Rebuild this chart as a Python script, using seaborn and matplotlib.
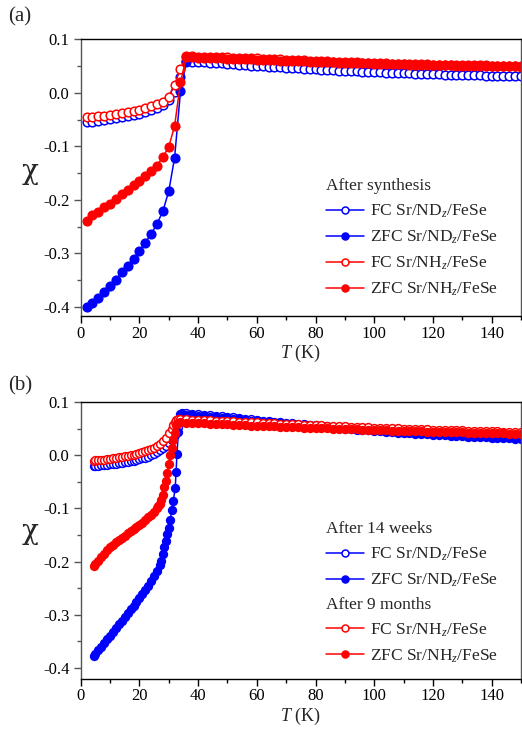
import numpy as np
import matplotlib
matplotlib.use("Agg")
import matplotlib.pyplot as plt
from matplotlib.lines import Line2D
from matplotlib.ticker import MultipleLocator, FormatStrFormatter
import seaborn as sns

# ---------------- data : panel (a) ----------------
T_A_LO = [2, 4, 6, 8, 10, 12, 14, 16, 18, 20, 22, 24, 26, 28, 30, 32, 34, 36]
T_A_HI = [38, 40, 42, 44, 46, 48, 50, 52, 54, 56, 58, 60, 62, 64, 66, 68, 70, 72, 74, 76,
          78, 80, 82, 84, 86, 88, 90, 92, 94, 96, 98, 100, 102, 104, 106, 108, 110, 112,
          114, 116, 118, 120, 122, 124, 126, 128, 130, 132, 134, 136, 138, 140, 142, 144,
          146, 148, 150]

FC_ND_A_LO = [-.0550, -.0537, -.0523, -.0508, -.0492, -.0475, -.0457, -.0437, -.0414, -.0388,
              -.0358, -.0324, -.0284, -.0232, -.0140, .0020, .0300, .0590]
FC_ND_A_HI = [.0580, .0575, .0569, .0563, .0557, .0551, .0545, .0536, .0527, .0518, .0509, .0500,
              .0494, .0488, .0482, .0476, .0470, .0463, .0456, .0449, .0442, .0435,
              .0430, .0425, .0420, .0415, .0410, .0405, .0400, .0395, .0390, .0385,
              .0381, .0377, .0373, .0369, .0365, .0361, .0357, .0353, .0349, .0345,
              .0342, .0339, .0336, .0333, .0330, .0328, .0326, .0324, .0322, .0320,
              .0318, .0316, .0314, .0312, .0310]
ZFC_ND_A = [-.401, -.393, -.383, -.372, -.361, -.349, -.335, -.323, -.310, -.296, -.280, -.264,
            -.245, -.221, -.184, -.121, .003, .058]
FC_NH_A_LO = [-.0460, -.0450, -.0438, -.0425, -.0410, -.0394, -.0377, -.0358, -.0337, -.0313,
              -.0286, -.0255, -.0218, -.0165, -.0070, .0150, .0450, .0680]
FC_NH_A_HI = [.0680, .0677, .0673, .0670, .0666, .0663, .0659, .0656, .0652, .0648, .0644, .0640,
              .0635, .0631, .0626, .0622, .0617, .0613, .0608, .0604, .0599, .0595,
              .0591, .0587, .0583, .0579, .0575, .0571, .0567, .0563, .0559, .0555,
              .0552, .0549, .0546, .0543, .0540, .0537, .0534, .0531, .0528, .0525,
              .0523, .0521, .0519, .0518, .0516, .0514, .0513, .0511, .0510, .0508,
              .0507, .0505, .0504, .0502, .0500]
ZFC_NH_A_LO = [-.239, -.229, -.222, -.214, -.207, -.199, -.190, -.182, -.173, -.165, -.156, -.146,
               -.136, -.120, -.101, -.062, .020, .066]
ZFC_NH_A_HI = [.0662, .0658, .0654, .0650, .0646, .0642, .0638, .0634, .0630, .0626, .0622, .0618,
               .0614, .0610, .0606, .0602, .0598, .0594, .0590, .0586, .0582, .0578,
               .0574, .0571, .0567, .0564, .0560, .0557, .0553, .0550, .0547, .0544,
               .0541, .0538, .0535, .0532, .0529, .0527, .0524, .0522, .0519, .0517,
               .0515, .0513, .0511, .0509, .0507, .0505, .0503, .0501, .0500, .0498,
               .0496, .0495, .0493, .0492, .0490]

# ---------------- data : panel (b) ----------------
T_B_HI = [36] + T_A_HI

T_FC_ND_B_LO = [4.5, 5, 6, 7, 8, 9, 10, 11, 12, 13, 14, 15, 16, 17, 18, 19, 20, 21, 22, 23, 24,
                25, 26, 27, 28, 29, 30, 31, 32, 32.5, 33, 33.5, 34, 34.5]
FC_ND_B_LO = [-.0203, -.0200, -.0195, -.0190, -.0184, -.0178, -.0172, -.0165, -.0158, -.0150,
              -.0142, -.0133, -.0124, -.0114, -.0103, -.0091, -.0078, -.0062, -.0045, -.0026,
              -.0005, .0020, .0052, .0090, .0130, .0180, .0230, .0290, .0370, .0430, .0520,
              .0660, .0780, .0800]
FC_ND_B_HI = [.0790, .0782, .0772, .0761, .0750, .0740, .0730, .0720, .0708, .0696, .0684, .0672,
              .0660, .0650, .0640, .0630, .0620, .0610, .0600, .0590, .0580, .0570, .0560,
              .0552, .0544, .0536, .0528, .0520, .0512, .0504, .0496, .0488, .0480,
              .0472, .0464, .0456, .0448, .0440, .0433, .0426, .0419, .0412, .0405,
              .0399, .0393, .0387, .0381, .0375, .0370, .0365, .0360, .0355, .0350,
              .0347, .0344, .0341, .0338, .0335]

T_ZFC_ND_B_LO = [4.5, 5, 6, 7, 8, 9, 10, 11, 12, 13, 14, 15, 16, 17, 18, 19, 20, 21, 22, 23, 24,
                 25, 26, 27, 27.5, 28, 28.5, 29, 29.5, 30, 30.5, 31, 31.5, 32.2, 32.5, 32.8,
                 33.3, 33.8, 34.3]
ZFC_ND_B_LO = [-.377, -.374, -.367, -.360, -.353, -.346, -.339, -.332, -.325, -.318, -.311, -.304,
               -.297, -.290, -.283, -.276, -.269, -.261, -.253, -.245, -.237, -.228, -.218,
               -.207, -.199, -.186, -.173, -.161, -.149, -.136, -.121, -.104, -.087, -.062,
               -.031, .003, .044, .070, .077]
ZFC_ND_B_HI = [.0760, .0752, .0742, .0732, .0722, .0712, .0702, .0692, .0681, .0670, .0659, .0648,
               .0637, .0627, .0617, .0607, .0597, .0587, .0577, .0567, .0557, .0547, .0537,
               .0529, .0521, .0513, .0505, .0497, .0489, .0481, .0473, .0465, .0457,
               .0449, .0441, .0433, .0425, .0417, .0410, .0403, .0396, .0389, .0382,
               .0376, .0370, .0364, .0358, .0352, .0347, .0342, .0337, .0332, .0327,
               .0323, .0319, .0315, .0311, .0307]

T_FC_NH_B_LO = [4.5, 5, 6, 7, 8, 9, 10, 11, 12, 13, 14, 15, 16, 17, 18, 19, 20, 21, 22, 23, 24,
                25, 26, 27, 28, 29, 30, 31, 31.5, 32, 32.5, 33, 34]
FC_NH_B_LO = [-.0103, -.0100, -.0095, -.0089, -.0083, -.0076, -.0069, -.0061, -.0053, -.0044,
              -.0035, -.0025, -.0014, -.0002, .0011, .0025, .0040, .0056, .0074, .0094, .0117,
              .0143, .0175, .0215, .0265, .0330, .0410, .0500, .0560, .0620, .0660, .0675,
              .0673]
FC_NH_B_HI = [.0672, .0668, .0664, .0659, .0654, .0649, .0644, .0639, .0634, .0629, .0624, .0619,
              .0614, .0609, .0604, .0599, .0594, .0589, .0584, .0579, .0574, .0569, .0564,
              .0559, .0554, .0550, .0545, .0541, .0536, .0532, .0527, .0523, .0519,
              .0515, .0511, .0507, .0503, .0499, .0495, .0491, .0488, .0484, .0481,
              .0477, .0474, .0470, .0467, .0464, .0461, .0458, .0455, .0452, .0449,
              .0446, .0443, .0441, .0438, .0436]

T_ZFC_NH_B_LO = [4.5, 5, 6, 7, 8, 9, 10, 11, 12, 13, 14, 15, 16, 17, 18, 19, 20, 21, 22, 23, 24,
                 25, 26, 26.5, 27, 27.5, 28, 28.5, 29, 29.5, 30, 30.5, 31, 31.5, 32, 32.5, 33, 34]
ZFC_NH_B_LO = [-.209, -.205, -.198, -.191, -.185, -.179, -.173, -.168, -.163, -.159, -.155, -.151,
               -.147, -.143, -.139, -.135, -.131, -.127, -.122, -.117, -.112, -.106, -.099,
               -.095, -.091, -.085, -.075, -.060, -.048, -.034, -.016, .000, .013, .028, .042,
               .056, .061, .0615]
ZFC_NH_B_HI = [.0610, .0606, .0602, .0597, .0592, .0587, .0582, .0577, .0572, .0567, .0562, .0557,
               .0552, .0548, .0543, .0539, .0534, .0530, .0525, .0521, .0517, .0513, .0509,
               .0505, .0501, .0497, .0493, .0489, .0485, .0482, .0478, .0475, .0471,
               .0468, .0464, .0461, .0458, .0455, .0452, .0449, .0446, .0443, .0440,
               .0437, .0434, .0431, .0428, .0426, .0423, .0421, .0418, .0416, .0413,
               .0411, .0409, .0406, .0404, .0402]

LABELS = [r"FC Sr/ND$_{\mathit{z}}$/FeSe", r"ZFC Sr/ND$_{\mathit{z}}$/FeSe",
          r"FC Sr/NH$_{\mathit{z}}$/FeSe", r"ZFC Sr/NH$_{\mathit{z}}$/FeSe"]
X_TICKS = [0, 20, 40, 60, 80, 100, 120, 140]
Y_TICKS = [-0.4, -0.3, -0.2, -0.1, 0.0, 0.1]

BLUE = "#0000FF"
RED = "#FF0000"

# ---------------- style ----------------
sns.set_theme(style="ticks")
plt.rcParams["font.family"] = ["Liberation Serif", "DejaVu Serif"]
plt.rcParams["mathtext.fontset"] = "custom"
plt.rcParams["mathtext.rm"] = "Liberation Serif"
plt.rcParams["mathtext.it"] = "Liberation Serif:italic"
plt.rcParams["axes.unicode_minus"] = False

fig = plt.figure(figsize=(5.22, 7.36), dpi=100)
ax_a = fig.add_axes([0.1546, 0.5707, 0.8434, 0.3760])
ax_b = fig.add_axes([0.1546, 0.0779, 0.8434, 0.3760])


def draw(ax, T, y, color, filled, ms, label):
    sns.lineplot(x=T, y=y, ax=ax, color=color, linewidth=1.1, marker="o",
                 markersize=ms, markeredgewidth=1.1, markeredgecolor=color,
                 markerfacecolor=color if filled else "white", sort=False,
                 estimator=None, label=label, legend=False)


# panel (a)
draw(ax_a, T_A_LO + T_A_HI, FC_ND_A_LO + FC_ND_A_HI, BLUE, False, 6.2, LABELS[0])
draw(ax_a, T_A_LO, ZFC_ND_A, BLUE, True, 6.2, LABELS[1])
draw(ax_a, T_A_LO + T_A_HI, FC_NH_A_LO + FC_NH_A_HI, RED, False, 6.2, LABELS[2])
draw(ax_a, T_A_LO + T_A_HI, ZFC_NH_A_LO + ZFC_NH_A_HI, RED, True, 6.2, LABELS[3])

# panel (b)
draw(ax_b, T_FC_ND_B_LO + T_B_HI, FC_ND_B_LO + FC_ND_B_HI, BLUE, False, 5.6, LABELS[0])
draw(ax_b, T_ZFC_ND_B_LO + T_B_HI, ZFC_ND_B_LO + ZFC_ND_B_HI, BLUE, True, 5.6, LABELS[1])
draw(ax_b, T_FC_NH_B_LO + T_B_HI, FC_NH_B_LO + FC_NH_B_HI, RED, False, 5.6, LABELS[2])
draw(ax_b, T_ZFC_NH_B_LO + T_B_HI, ZFC_NH_B_LO + ZFC_NH_B_HI, RED, True, 5.6, LABELS[3])

for ax, ylo, ly in [(ax_a, -0.417, 0.473), (ax_b, -0.42, 0.483)]:
    ax.set_xlim(0, 150)
    ax.set_ylim(ylo, 0.1)
    ax.set_xticks(X_TICKS)
    ax.set_yticks(Y_TICKS)
    ax.xaxis.set_minor_locator(MultipleLocator(10))
    ax.yaxis.set_minor_locator(MultipleLocator(0.05))
    ax.yaxis.set_major_formatter(FormatStrFormatter("%.1f"))
    ax.tick_params(which="both", direction="out", top=False, right=False,
                   labelsize=12, pad=3, width=1.0, colors="black")
    ax.tick_params(axis="x", which="both", pad=2)
    ax.tick_params(which="major", length=5)
    ax.tick_params(which="minor", length=3)
    ax.tick_params(axis="y", which="both", color="#555555")
    for s in ["top", "bottom"]:
        ax.spines[s].set_color("black")
        ax.spines[s].set_linewidth(1.0)
    for s in ["left", "right"]:
        ax.spines[s].set_color("#555555")
        ax.spines[s].set_linewidth(1.0)
    ax.set_xlabel(r"$T$ (K)", fontsize=13, labelpad=1)
    ax.set_ylabel("χ", fontsize=20, rotation=0, family=["DejaVu Serif"])
    ax.yaxis.set_label_coords(-0.115, ly)


def handle(color, filled):
    return Line2D([], [], color=color, linewidth=1.1, marker="o", markersize=5,
                  markeredgewidth=1.1, markeredgecolor=color,
                  markerfacecolor=color if filled else "white")


leg_kw = dict(loc="upper left", frameon=False, fontsize=12.5, title_fontsize=12.5,
              alignment="left", handlelength=2.2, handletextpad=0.35, labelspacing=0.5,
              borderpad=0, borderaxespad=0)

ax_a.legend([handle(BLUE, False), handle(BLUE, True), handle(RED, False), handle(RED, True)],
            LABELS, title="After synthesis", bbox_to_anchor=(0.557, 0.498), **leg_kw)

leg1 = ax_b.legend([handle(BLUE, False), handle(BLUE, True)], LABELS[:2],
                   title="After 14 weeks", bbox_to_anchor=(0.557, 0.57), **leg_kw)
ax_b.add_artist(leg1)
ax_b.legend([handle(RED, False), handle(RED, True)], LABELS[2:],
            title="After 9 months", bbox_to_anchor=(0.557, 0.296), **leg_kw)

fig.text(8 / 522, 1 - 17 / 736, "(a)", fontsize=15, va="center", ha="left")
fig.text(8 / 522, 1 - 386 / 736, "(b)", fontsize=15, va="center", ha="left")

fig.savefig("out.png", dpi=100)
